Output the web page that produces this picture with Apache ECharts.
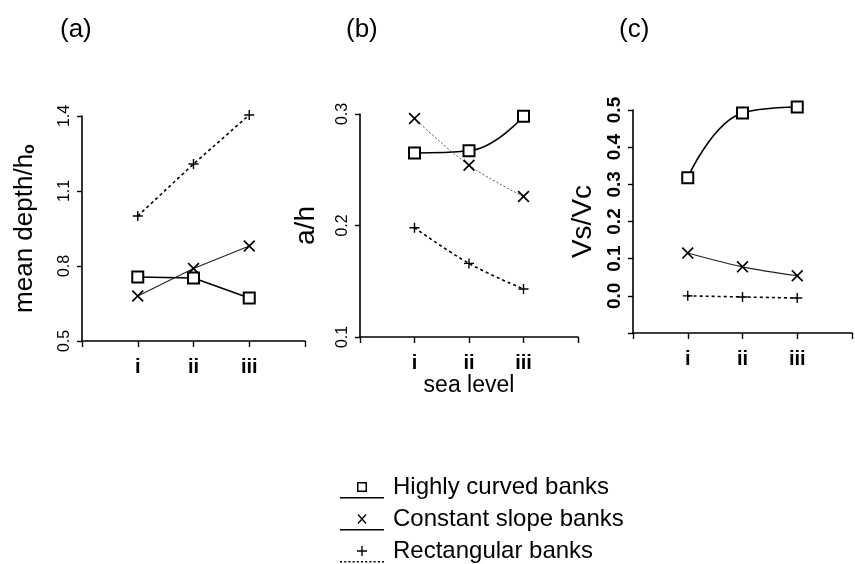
<!DOCTYPE html>
<html><head><meta charset="utf-8">
<script src="https://cdn.jsdelivr.net/npm/echarts@6/dist/echarts.min.js"></script>
<style>html,body{margin:0;padding:0;background:#fff}#c{width:855px;height:564px}</style>
</head><body><div id="c"></div>
<script>
// ---- data ----
const seaLevels = ['i', 'ii', 'iii'];
const seriesNames = ['Highly curved banks', 'Constant slope banks', 'Rectangular banks'];
// (a) mean depth / h0
const aCurved = [0.756, 0.752, 0.672];
const aSlope  = [0.68, 0.79, 0.88];
const aRect   = [1.0, 1.208, 1.404];
// (b) a/h
const bCurved = [0.265, 0.267, 0.298];
const bSlope  = [0.296, 0.254, 0.226];
const bRect   = [0.198, 0.166, 0.143];
// (c) Vs/Vc
const cCurved = [0.318, 0.492, 0.508];
const cSlope  = [0.115, 0.078, 0.054];
const cRect   = [0.0, -0.003, -0.006];
// tick values and labels
const aTicks = [0.5, 0.8, 1.1, 1.4];
const aTickLabels = ['0.5', '0.8', '1.1', '1.4'];
const bTicks = [0.1, 0.2, 0.3];
const bTickLabels = ['0.1', '0.2', '0.3'];
const cTicks = [-0.1, 0.0, 0.1, 0.2, 0.3, 0.4, 0.5];
const cTickLabels = ['', '0.0', '0.1', '0.2', '0.3', '0.4', '0.5'];
const panelTitles = ['(a)', '(b)', '(c)'];

const FONT = '"Liberation Sans", Arial, sans-serif';
const chart = echarts.init(document.getElementById('c'));

const grids = [
  {left: 82, top: 116, width: 223, height: 225},
  {left: 360, top: 114, width: 218, height: 223},
  {left: 633, top: 110, width: 222, height: 223}
];

function xAxis(gi, extra) {
  return Object.assign({
    type: 'value', gridIndex: gi, min: 0, max: 4, interval: 1,
    axisLine: {show: true, onZero: false, lineStyle: {color: '#000', width: 1.6}},
    axisTick: {show: true, length: 6, lineStyle: {color: '#000', width: 1.4}},
    splitLine: {show: false},
    axisLabel: {color: '#000', fontSize: 20, fontWeight: 'bold', fontFamily: FONT, margin: 16,
      formatter: v => seaLevels[v - 1] || ''}
  }, extra || {});
}
function yAxis(gi, ticks, labels, name, nameGap, nameStyle, labelStyle) {
  const interval = +(ticks[1] - ticks[0]).toFixed(6);
  return {
    type: 'value', gridIndex: gi, min: ticks[0], max: ticks[ticks.length - 1], interval: interval,
    axisLine: {show: true, onZero: false, lineStyle: {color: '#000', width: 1.6}},
    axisTick: {show: true, length: 5, lineStyle: {color: '#000', width: 1.4}},
    splitLine: {show: false},
    axisLabel: Object.assign({rotate: 90, color: '#000', fontFamily: FONT, margin: 9,
      formatter: v => { const k = Math.round((v - ticks[0]) / interval); return labels[k] != null ? labels[k] : ''; }},
      labelStyle),
    name: name, nameLocation: 'middle', nameRotate: 90, nameGap: nameGap,
    nameTextStyle: Object.assign({color: '#000', fontFamily: FONT}, nameStyle)
  };
}

const X_PATH = 'path://M0,1L1,0L10,9L9,10Z M9,0L10,1L1,10L0,9Z';
const PLUS_PATH = 'path://M4.3,0H5.7V10H4.3Z M0,4.3H10V5.7H0Z';

function mk(gi, name, vals, kind, smooth, xLineDotted) {
  const s = {
    type: 'line', name: name, xAxisIndex: gi, yAxisIndex: gi,
    data: vals.map((v, i) => [i + 1, v]),
    smooth: smooth, showSymbol: true, clip: false, z: 3
  };
  if (kind === 0) {
    s.symbol = 'emptyRect'; s.symbolSize = 11;
    s.itemStyle = {color: '#000', borderWidth: 1.5};
    s.lineStyle = {color: '#000', width: 1.6, type: 'solid'};
  } else if (kind === 1) {
    s.symbol = X_PATH; s.symbolSize = 12;
    s.itemStyle = {color: '#000', borderWidth: 0};
    s.lineStyle = xLineDotted ? {color: '#555', width: 1, type: [2, 2]} : {color: '#222', width: 1.1, type: 'solid'};
  } else {
    s.symbol = PLUS_PATH; s.symbolSize = 10;
    s.itemStyle = {color: '#000', borderWidth: 0};
    s.lineStyle = {color: '#000', width: 1.6, type: [3, 3]};
  }
  return s;
}

// legend icons (marker above a short line); a zero-area point at the top keeps the marker centred on the text
let dots = '';
for (let k = 0; k <= 10; k++) dots += 'M' + (k * 4.2) + ',15h2v1.5h-2Z ';
const pad = 'M0,-6.5L0,-6.5Z ';
const legendIcons = [
  'path://' + pad + 'M17,0H27V10H17Z M18.5,1.5V8.5H25.5V1.5Z M0,15H44V16.5H0Z',
  'path://' + pad + 'M17.5,1L18.5,0L26.5,9L25.5,10Z M25.5,0L26.5,1L18.5,10L17.5,9Z M0,15H44V16.5H0Z',
  'path://' + pad + 'M21.3,0H22.7V10H21.3Z M17,4.3H27V5.7H17Z ' + dots
];

const titleLefts = [55, 341, 614];
const option = {
  backgroundColor: '#fff',
  animation: false,
  title: panelTitles.map((t, i) => ({
    text: t, left: titleLefts[i], top: 12,
    textStyle: {fontSize: 26, fontWeight: 'normal', color: '#000', fontFamily: FONT}
  })),
  grid: grids,
  xAxis: [
    xAxis(0),
    xAxis(1, {name: 'sea level', nameLocation: 'middle', nameGap: 34,
      nameTextStyle: {fontSize: 23, color: '#000', fontFamily: FONT}}),
    xAxis(2)
  ],
  yAxis: [
    yAxis(0, aTicks, aTickLabels, 'mean depth/h{sub|o}', 44,
      {fontSize: 26, rich: {sub: {fontSize: 16, fontWeight: 'bold', fontFamily: FONT, color: '#000', padding: [10, 0, 0, 0]}}},
      {fontSize: 16}),
    yAxis(1, bTicks, bTickLabels, 'a/h', 40, {fontSize: 28}, {fontSize: 16}),
    yAxis(2, cTicks, cTickLabels, 'Vs/Vc', 36, {fontSize: 28}, {fontSize: 19, fontWeight: 'bold'})
  ],
  legend: {
    orient: 'vertical', left: 340, top: 475, width: 320, height: 120, padding: 0,
    itemWidth: 44, itemHeight: 23, itemGap: 8,
    selectedMode: false,
    itemStyle: {borderWidth: 0},
    textStyle: {fontSize: 24, color: '#000', fontFamily: FONT, padding: [0, 0, 0, 4]},
    data: seriesNames.map((n, i) => ({name: n, icon: legendIcons[i]}))
  },
  series: [
    mk(0, seriesNames[0], aCurved, 0, false),
    mk(0, seriesNames[1], aSlope, 1, false),
    mk(0, seriesNames[2], aRect, 2, false),
    mk(1, seriesNames[0], bCurved, 0, 0.45),
    mk(1, seriesNames[1], bSlope, 1, 0.35, true),
    mk(1, seriesNames[2], bRect, 2, 0.35),
    mk(2, seriesNames[0], cCurved, 0, 0.45),
    mk(2, seriesNames[1], cSlope, 1, 0.35),
    mk(2, seriesNames[2], cRect, 2, 0.35)
  ]
};
chart.setOption(option);
</script>
</body></html>
